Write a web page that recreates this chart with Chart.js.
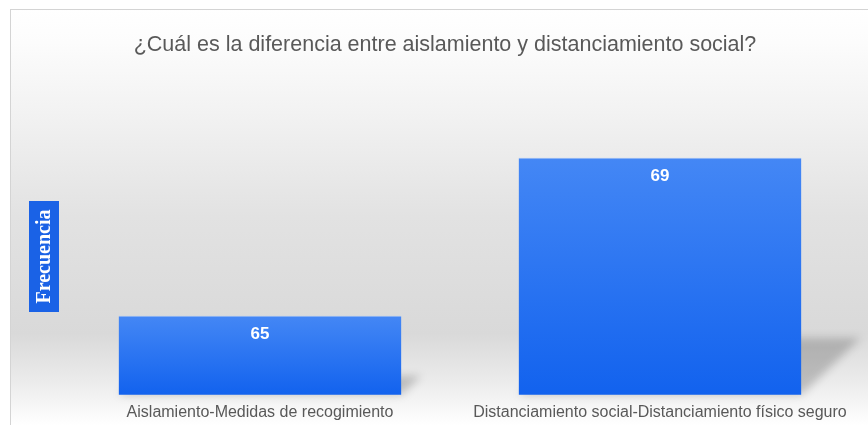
<!DOCTYPE html>
<html>
<head>
<meta charset="utf-8">
<script src="https://cdn.jsdelivr.net/npm/chart.js@4.4.0/dist/chart.umd.min.js"></script>
<style>
  html, body { margin: 0; padding: 0; background: #fff; }
  #wrap { width: 868px; height: 425px; }
</style>
</head>
<body>
<div id="wrap"><canvas id="myChart"></canvas></div>
<script>
var categorias = ['Aislamiento-Medidas de recogimiento', 'Distanciamiento social-Distanciamiento físico seguro'];
var frecuencias = [65, 69];
var titulo = '¿Cuál es la diferencia entre aislamiento y distanciamiento social?';
var tituloEje = 'Frecuencia';
var ejeMin = 63;
var ejeMax = 71;

// fondo gris degradado con marco
const fondo = {
  id: 'fondo',
  beforeDraw(chart) {
    const ctx = chart.ctx;
    ctx.save();
    ctx.fillStyle = '#ffffff';
    ctx.fillRect(0, 0, chart.width, chart.height);
    let g = ctx.createLinearGradient(0, 9, 0, 425);
    g.addColorStop(0, '#ffffff');
    g.addColorStop(0.08, '#fcfcfc');
    g.addColorStop(0.25, '#f2f2f2');
    g.addColorStop(0.5, '#e2e2e2');
    g.addColorStop(0.78, '#d9d9d9');
    g.addColorStop(0.9, '#ececec');
    g.addColorStop(1, '#ffffff');
    ctx.fillStyle = g;
    ctx.fillRect(10, 9, chart.width, chart.height);
    ctx.strokeStyle = '#d4d4d4';
    ctx.lineWidth = 1;
    ctx.strokeRect(10.5, 9.5, chart.width, chart.height);

    // etiqueta del eje en caja azul
    ctx.fillStyle = '#1a62e6';
    ctx.fillRect(29, 201, 30, 111);
    ctx.translate(44, 256.5);
    ctx.rotate(-Math.PI / 2);
    ctx.fillStyle = '#ffffff';
    ctx.font = 'bold 20px "Liberation Serif", "DejaVu Serif", serif';
    ctx.textAlign = 'center';
    ctx.textBaseline = 'middle';
    ctx.fillText(tituloEje, 0, 1);
    ctx.restore();
  }
};

// sombras de las barras (base = minimo del eje, no el cero)
const sombras = {
  id: 'sombras',
  beforeDatasetsDraw(chart) {
    const ctx = chart.ctx;
    const meta = chart.getDatasetMeta(0);
    const base = chart.scales.y.getPixelForValue(ejeMin);
    ctx.save();
    ctx.filter = 'blur(4px)';
    ctx.fillStyle = 'rgba(0,0,0,0.2)';
    meta.data.forEach(bar => {
      const left = bar.x - bar.width / 2;
      const right = bar.x + bar.width / 2;
      const h = base - bar.y;
      const dy = h * 0.24;
      const dx = h * 0.25;
      ctx.beginPath();
      ctx.moveTo(left, base);
      ctx.lineTo(right, base);
      ctx.lineTo(right + dx, base - dy);
      ctx.lineTo(left + dx, base - dy);
      ctx.closePath();
      ctx.fill();
    });
    ctx.restore();
  }
};

// valores dentro de la barra
const valores = {
  id: 'valores',
  afterDatasetsDraw(chart) {
    const ctx = chart.ctx;
    const meta = chart.getDatasetMeta(0);
    ctx.save();
    ctx.font = 'bold 17px "Liberation Sans", Arial, sans-serif';
    ctx.fillStyle = '#ffffff';
    ctx.textAlign = 'center';
    ctx.textBaseline = 'middle';
    meta.data.forEach((bar, i) => {
      ctx.fillText(frecuencias[i], bar.x, bar.y + 19);
    });
    ctx.restore();
  }
};

const colorBarra = (c) => {
  const chart = c.chart;
  if (!chart.chartArea) return '#2f74f0';
  const y = chart.scales.y;
  const top = y.getPixelForValue(c.raw);
  const bottom = y.getPixelForValue(ejeMin);
  let g = chart.ctx.createLinearGradient(0, top, 0, bottom);
  g.addColorStop(0, '#4487f5');
  g.addColorStop(1, '#1262ee');
  return g;
};

let info = {
  labels: categorias,
  datasets: [{
    label: tituloEje,
    data: frecuencias,
    backgroundColor: colorBarra,
    borderColor: '#8db5f8',
    borderWidth: { top: 1, left: 0, right: 0, bottom: 0 },
    borderSkipped: false,
    categoryPercentage: 1,
    barPercentage: 0.707
  }]
};

let config = {
  type: 'bar',
  data: info,
  options: {
    responsive: true,
    maintainAspectRatio: false,
    animation: false,
    layout: { padding: { left: 30, right: 8, top: 0, bottom: -5 } },
    plugins: {
      legend: { display: false },
      tooltip: { enabled: false },
      title: {
        display: true,
        text: titulo,
        color: '#595959',
        font: { family: '"Liberation Sans", Arial, sans-serif', size: 21.5, weight: 'normal' },
        padding: { top: 32, bottom: 21 }
      }
    },
    scales: {
      x: {
        grid: { display: false, drawTicks: false },
        border: { display: false },
        ticks: {
          color: '#595959',
          padding: 8,
          maxRotation: 0,
          autoSkip: false,
          font: { family: '"Liberation Sans", Arial, sans-serif', size: 16 }
        }
      },
      y: {
        display: true,
        min: ejeMin,
        max: ejeMax,
        ticks: { display: false },
        grid: { display: false, drawTicks: false },
        border: { display: false },
        afterFit: (scale) => { scale.width = 30; }
      }
    }
  },
  plugins: [fondo, sombras, valores]
};

var myChart = new Chart(document.getElementById('myChart'), config);
</script>
</body>
</html>
